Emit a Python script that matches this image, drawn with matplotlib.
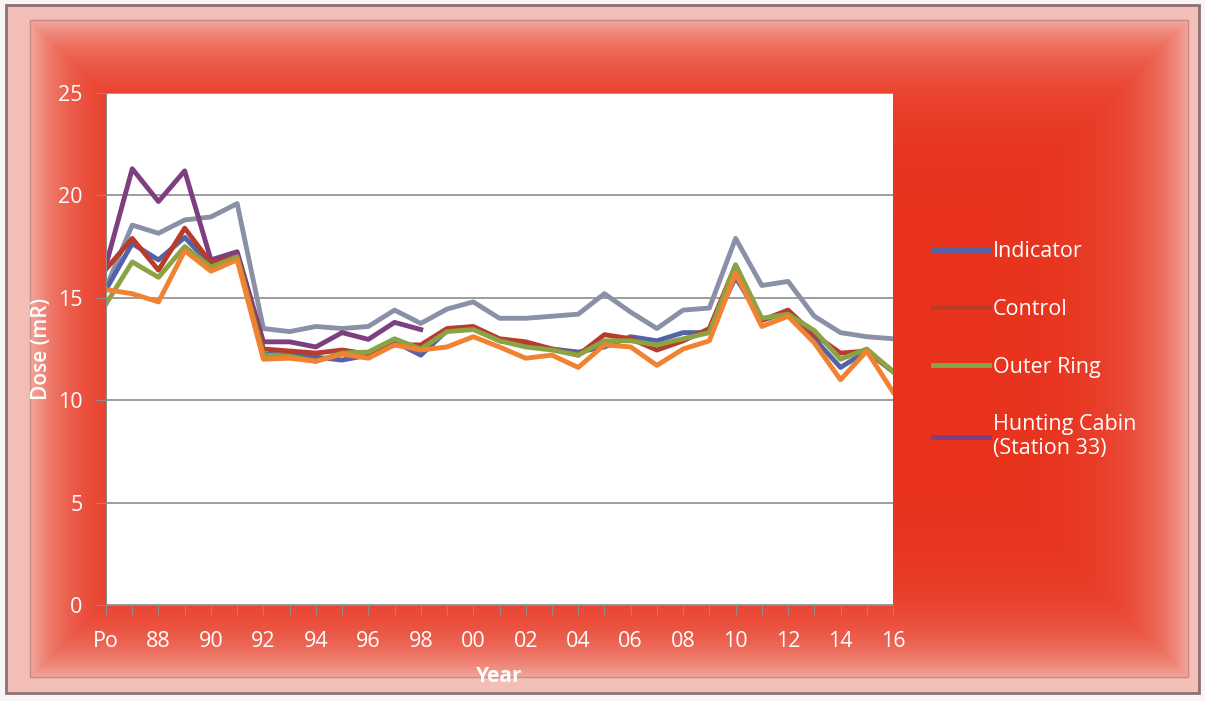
import numpy as np
from matplotlib import pyplot as plt
from matplotlib.lines import Line2D

plt.rcParams['font.family'] = ['Open Sans', 'DejaVu Sans']

# categories: "Po" then 1987 ... 2016
years = ['Po'] + ['%02d' % (y % 100) for y in range(1987, 2017)]
tick_labels = [lbl if i % 2 == 0 else '' for i, lbl in enumerate(years)]

indicator = [15.4, 17.65, 16.85, 17.95, 16.6, 17.0, 12.25, 12.2, 12.1, 11.96, 12.2, 12.85, 12.2, 13.4, 13.5,
             12.9, 12.7, 12.5, 12.35, 12.6, 13.1, 12.9, 13.3, 13.3, 16.0, 13.9, 14.3, 13.0, 11.6, 12.4, 11.4]
control = [16.4, 17.9, 16.35, 18.4, 16.7, 17.0, 12.5, 12.4, 12.3, 12.45, 12.25, 12.7, 12.7, 13.5, 13.6,
           13.0, 12.85, 12.5, 12.2, 13.2, 13.0, 12.45, 12.9, 13.5, 16.6, 13.9, 14.4, 13.2, 12.3, 12.4, 11.4]
outer_ring = [14.7, 16.75, 16.0, 17.5, 16.5, 17.0, 12.2, 12.15, 11.9, 12.3, 12.35, 13.0, 12.5, 13.35, 13.45,
              12.9, 12.6, 12.45, 12.2, 12.9, 12.9, 12.7, 13.0, 13.3, 16.6, 14.0, 14.2, 13.4, 12.0, 12.5, 11.4]
hunting_cabin = [16.6, 21.3, 19.7, 21.2, 16.85, 17.25, 12.85, 12.85, 12.6, 13.3, 12.97, 13.8, 13.45] + [np.nan] * 18
unlabeled_gray = [15.5, 18.55, 18.15, 18.8, 18.95, 19.6, 13.5, 13.35, 13.6, 13.5, 13.6, 14.4, 13.75, 14.45, 14.8,
                  14.0, 14.0, 14.1, 14.2, 15.2, 14.3, 13.5, 14.4, 14.5, 17.9, 15.6, 15.8, 14.1, 13.3, 13.1, 13.0]
unlabeled_orange = [15.4, 15.2, 14.8, 17.3, 16.3, 16.85, 12.0, 12.05, 11.9, 12.25, 12.05, 12.7, 12.45, 12.6, 13.1,
                    12.6, 12.05, 12.2, 11.6, 12.7, 12.6, 11.7, 12.5, 12.9, 16.2, 13.6, 14.1, 12.8, 11.0, 12.4, 10.4]

W, H = 1205, 701
fig = plt.figure(figsize=(W / 100, H / 100), dpi=100)

# background: pale pink bevel frame around a red panel that fades at its edges
bg = fig.add_axes([0, 0, 1, 1])
yy, xx = np.mgrid[0:H, 0:W]
pink = np.array([242, 190, 182]) / 255
red = np.array([232, 50, 28]) / 255
x0, x1, y0, y1 = 30, 1188, 20, 677
d = np.minimum.reduce([xx - x0, x1 - xx, yy - y0, y1 - yy]).astype(float)
f = np.clip(np.exp(-np.clip(d, 0, None) / 40.0), 0, 1)[..., None]
img = red * (1 - f) + np.array([242, 168, 158]) / 255 * f
inside = ((xx >= x0) & (xx <= x1) & (yy >= y0) & (yy <= y1))[..., None]
img = np.where(inside, img, pink)
border = ((xx < 6) | (xx > W - 6) | (yy < 5) | (yy > H - 8))[..., None]
img = np.where(border, np.array([250, 245, 245]) / 255, img)
bg.imshow(img, extent=(0, W, H, 0), aspect='auto')
bg.add_patch(plt.Rectangle((6, 5), W - 12, H - 13, fill=False, ec='#8a7078', lw=2))
bg.add_patch(plt.Rectangle((x0, y0), x1 - x0, y1 - y0, fill=False, ec='#c98a86', lw=1))
bg.set_xlim(0, W)
bg.set_ylim(H, 0)
bg.axis('off')

ax = fig.add_axes([106 / W, 1 - 605 / H, (893 - 106) / W, (605 - 93) / H])
ax.set_facecolor('white')
x = np.arange(len(years))

ax.plot(x, unlabeled_gray, color='#8a90a6', lw=3.5)
ax.plot(x, hunting_cabin, color='#7d3f80', lw=3.5, label='Hunting Cabin\n(Station 33)')
ax.plot(x, indicator, color='#5462a8', lw=3.5, label='Indicator')
ax.plot(x, control, color='#b83c2c', lw=3.5, label='Control')
ax.plot(x, outer_ring, color='#8aa444', lw=3.5, label='Outer Ring')
ax.plot(x, unlabeled_orange, color='#f08232', lw=3.5)

ax.set_xlim(0, len(years) - 1)
ax.set_ylim(0, 25)
ax.set_yticks([0, 5, 10, 15, 20, 25])
ax.set_xticks(x)
ax.set_xticklabels(tick_labels)
ax.yaxis.grid(True, color='#8c8c8c', lw=1.2)
ax.set_axisbelow(True)
for s in ['top', 'right']:
    ax.spines[s].set_visible(False)
for s in ['left', 'bottom']:
    ax.spines[s].set_color('#8c8c8c')
ax.tick_params(axis='both', colors='#8c8c8c', direction='out', length=7, labelcolor='white', labelsize=15.5)
ax.tick_params(axis='x', pad=12)
ax.tick_params(axis='y', pad=10)
ax.set_ylabel('Dose (mR)', color='white', fontsize=15, fontweight='semibold', labelpad=4)
ax.set_xlabel('Year', color='white', fontsize=15, fontweight='bold', labelpad=10)

handles = [Line2D([], [], color='#5462a8', lw=3.5),
           Line2D([], [], color='#b83c2c', lw=3.5),
           Line2D([], [], color='#8aa444', lw=3.5),
           Line2D([], [], color='#7d3f80', lw=3.5)]
labels = ['Indicator', 'Control', 'Outer Ring', 'Hunting Cabin\n(Station 33)']
leg = fig.legend(handles, labels, loc='upper left', bbox_to_anchor=(914 / W, 1 - 222 / H),
                 frameon=False, fontsize=15.5, labelcolor='white', handlelength=2.6,
                 handletextpad=0.15, labelspacing=1.7)

fig.savefig('out.png', dpi=100)
